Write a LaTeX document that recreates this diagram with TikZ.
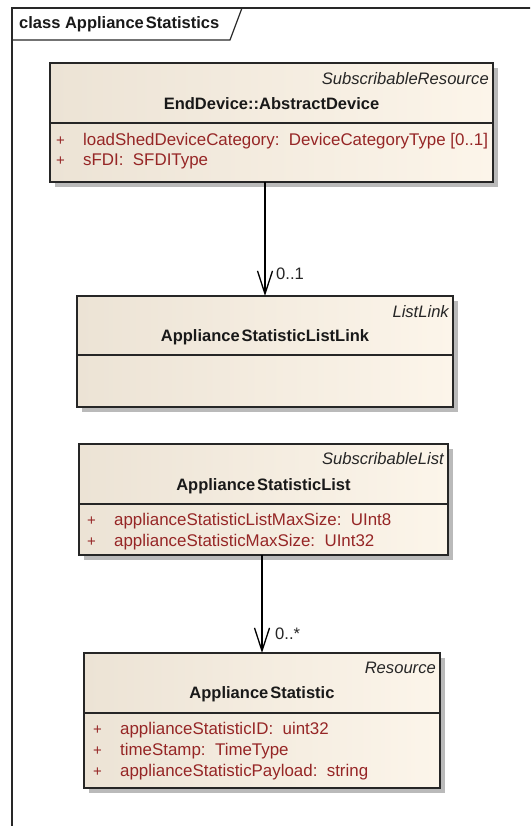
\documentclass[tikz,border=0pt]{standalone}
\usepackage{fontspec}
\setmainfont{Liberation Sans}
\usetikzlibrary{arrows.meta,shadows}
\definecolor{boxL}{RGB}{236,227,213}
\definecolor{boxR}{RGB}{252,245,234}
\definecolor{attr}{RGB}{150,38,38}
\definecolor{frame}{RGB}{40,40,40}
\begin{document}
\begin{tikzpicture}[x=1pt,y=-1pt,
  every node/.style={font=\fontsize{16.6}{19}\selectfont, inner sep=0pt},
  umlbox/.style={draw=black!85, line width=1.4pt, left color=boxL, right color=boxR,
    shading angle=90, anchor=north west, minimum width=#1, outer sep=0pt,
    drop shadow={shadow xshift=5pt, shadow yshift=-5pt, fill=black!45, opacity=0.6}},
  divider/.style={draw=black!85, line width=1.2pt},
  stereo/.style={anchor=east, font=\fontsize{16.6}{19}\selectfont\itshape, text=black!85},
  cname/.style={font=\fontsize{16.5}{19}\selectfont\bfseries, text=black!90},
  plus/.style={anchor=west, text=attr, font=\fontsize{15}{19}\selectfont},
  attrtext/.style={anchor=west, text=attr, font=\fontsize{16.9}{19}\selectfont},
  assoc/.style={draw=black, line width=1.3pt, -{Straight Barb[length=23pt,width=15pt,line width=1.3pt]}},
  mult/.style={anchor=west, text=black!85}
]
\useasboundingbox (0,0) rectangle (530,826);
\clip (0,0) rectangle (530,826);
\fill[white] (0,0) rectangle (530,826);
% frame
\draw[frame, line width=1.2pt] (12,8) rectangle (560,860);
\draw[frame, line width=1.2pt] (12,40) -- (230,40) -- (242,8);
\node[cname, anchor=west] (title) at (19,24) {class Appliance\hspace{0.12em}Statistics};

% Box 1
\node[umlbox=443pt, minimum height=119pt] (b1) at (50,63) {};
\draw[divider] (50,123) -- (493,123);
\node[stereo] (s1) at (489,79) {SubscribableResource};
\node[cname] (n1) at (271.5,104) {EndDevice::AbstractDevice};
\node[plus] (p1a) at (56,141) {+};
\node[attrtext] (a1a) at (83,141) {loadShedDeviceCategory:\ \ DeviceCategoryType [0..1]};
\node[plus] (p1b) at (56,161) {+};
\node[attrtext] (a1b) at (83,161) {sFDI:\ \ SFDIType};

% Box 2
\node[umlbox=376pt, minimum height=111pt] (b2) at (77,296) {};
\draw[divider] (77,355) -- (453,355);
\node[stereo] (s2) at (449,312) {ListLink};
\node[cname] (n2) at (265,337) {Appliance\hspace{0.12em}StatisticListLink};

% Box 3
\node[umlbox=369pt, minimum height=111pt] (b3) at (79,444) {};
\draw[divider] (79,504) -- (448,504);
\node[stereo] (s3) at (444,459) {SubscribableList};
\node[cname] (n3) at (263.5,486) {Appliance\hspace{0.12em}StatisticList};
\node[plus] (p3a) at (87,521) {+};
\node[attrtext] (a3a) at (114,521) {applianceStatisticListMaxSize:\ \ UInt8};
\node[plus] (p3b) at (87,542) {+};
\node[attrtext] (a3b) at (114,542) {applianceStatisticMaxSize:\ \ UInt32};

% Box 4
\node[umlbox=356pt, minimum height=135pt] (b4) at (84,653) {};
\draw[divider] (84,713) -- (440,713);
\node[stereo] (s4) at (436,668) {Resource};
\node[cname] (n4) at (262,694) {Appliance\hspace{0.12em}Statistic};
\node[plus] (p4a) at (93,730) {+};
\node[attrtext] (a4a) at (120,730) {applianceStatisticID:\ \ uint32};
\node[plus] (p4b) at (93,751) {+};
\node[attrtext] (a4b) at (120,751) {timeStamp:\ \ TimeType};
\node[plus] (p4c) at (93,772) {+};
\node[attrtext] (a4c) at (120,772) {applianceStatisticPayload:\ \ string};

% connectors
\draw[assoc] (b2.north |- b1.south) -- (b2.north);
\node[mult] (m1) at (276,274) {0..1};
\draw[assoc] (b4.north |- b3.south) -- (b4.north);
\node[mult] (m2) at (275,634) {0..*};
\end{tikzpicture}
\end{document}
